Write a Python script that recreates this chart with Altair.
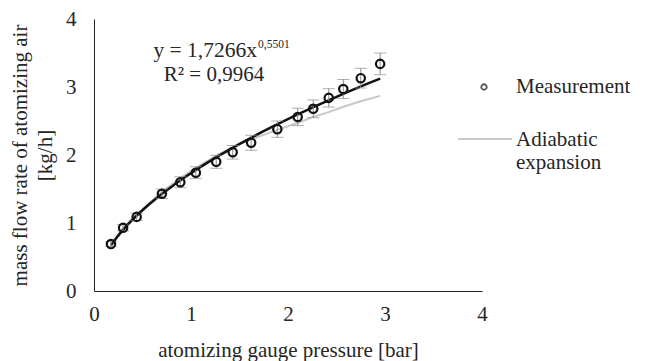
import altair as alt
import pandas as pd

# ---- data ----
pressure = [0.175, 0.30, 0.44, 0.70, 0.89, 1.05, 1.26, 1.43, 1.62, 1.89, 2.10, 2.26, 2.42, 2.57, 2.75, 2.95]
flow = [0.69, 0.93, 1.09, 1.43, 1.60, 1.74, 1.90, 2.04, 2.18, 2.38, 2.56, 2.68, 2.84, 2.97, 3.13, 3.34]
flow_err = [0.035, 0.045, 0.055, 0.07, 0.08, 0.087, 0.095, 0.10, 0.11, 0.12, 0.128, 0.13, 0.135, 0.14, 0.145, 0.16]
adiabatic = [0.68, 0.93, 1.13, 1.46, 1.66, 1.81, 1.99, 2.12, 2.23, 2.37, 2.47, 2.56, 2.63, 2.71, 2.79, 2.87]

x_ticks = [0, 1, 2, 3, 4]
y_ticks = [0, 1, 2, 3, 4]
eq_main = ["y = 1,7266x"]
eq_sup = ["0,5501"]
eq_r2 = ["R² = 0,9964"]
legend_labels = ["Measurement", "Adiabatic", "expansion"]

FONT = "Liberation Serif"
TXT = "#262626"
FS = 21

df = pd.DataFrame({
    "p": pressure,
    "m": flow,
    "lo": [v - e for v, e in zip(flow, flow_err)],
    "hi": [v + e for v, e in zip(flow, flow_err)],
    "ad": adiabatic,
})

xs = alt.Scale(domain=[0, 4], nice=False)
ys = alt.Scale(domain=[0, 4], nice=False)

xax = alt.Axis(values=x_ticks, format="d", ticks=False, grid=False, labelPadding=12, labelFlush=False,
               title="atomizing gauge pressure [bar]", titlePadding=15)
yax = alt.Axis(values=y_ticks, format="d", ticks=False, grid=False, labelPadding=18, labelFlush=False,
               title=["mass flow rate of atomizing air", "[kg/h]"], titlePadding=10, titleLineHeight=25)

base = alt.Chart(df)

adiab = base.mark_line(color="#c8c8c8", strokeWidth=2).encode(
    x=alt.X("p:Q", scale=xs, axis=xax),
    y=alt.Y("ad:Q", scale=ys, axis=yax),
)

fit = base.transform_regression("p", "m", method="pow").mark_line(
    color="#111111", strokeWidth=2.5
).encode(x=alt.X("p:Q", scale=xs), y=alt.Y("m:Q", scale=ys))

err = base.mark_rule(color="#8c8c8c", strokeWidth=1).encode(
    x=alt.X("p:Q", scale=xs), y=alt.Y("lo:Q", scale=ys), y2="hi:Q"
)
cap_lo = base.mark_tick(color="#8c8c8c", orient="horizontal", size=12, thickness=1).encode(
    x=alt.X("p:Q", scale=xs), y=alt.Y("lo:Q", scale=ys)
)
cap_hi = base.mark_tick(color="#8c8c8c", orient="horizontal", size=12, thickness=1).encode(
    x=alt.X("p:Q", scale=xs), y=alt.Y("hi:Q", scale=ys)
)

pts = base.mark_point(shape="circle", filled=False, color="#111111", size=70, strokeWidth=2.2, opacity=1).encode(
    x=alt.X("p:Q", scale=xs), y=alt.Y("m:Q", scale=ys)
)

# equation annotation
t1 = alt.Chart(pd.DataFrame({"t": eq_main})).mark_text(
    font=FONT, fontSize=21.5, color=TXT, align="right", baseline="middle"
).encode(text="t:N", x=alt.value(163), y=alt.value(32))
t2 = alt.Chart(pd.DataFrame({"t": eq_sup})).mark_text(
    font=FONT, fontSize=11.5, color=TXT, align="left", baseline="middle"
).encode(text="t:N", x=alt.value(164), y=alt.value(26))
t3 = alt.Chart(pd.DataFrame({"t": eq_r2})).mark_text(
    font=FONT, fontSize=FS, color=TXT, align="center", baseline="middle"
).encode(text="t:N", x=alt.value(120), y=alt.value(56))

# manual legend
leg_pt = alt.Chart(pd.DataFrame({"k": [0]})).mark_point(
    shape="circle", filled=False, color="#111111", size=30, strokeWidth=1.8
).encode(x=alt.value(390), y=alt.value(68))
leg_line = alt.Chart(pd.DataFrame({"k": [0]})).mark_rule(color="#c8c8c8", strokeWidth=2).encode(
    x=alt.value(364), x2=alt.value(418), y=alt.value(120)
)
leg_txt = alt.Chart(pd.DataFrame({"t": legend_labels, "yy": [68, 121, 144]})).mark_text(
    font=FONT, fontSize=FS, color=TXT, align="left", baseline="middle"
).encode(text="t:N", x=alt.value(422), y=alt.Y("yy:Q", scale=None))

chart = alt.layer(adiab, fit, err, cap_lo, cap_hi, pts, t1, t2, t3, leg_pt, leg_line, leg_txt).properties(
    width=388, height=272,
    autosize=alt.AutoSizeParams(type="none"),
    padding={"left": 86, "top": 11, "right": 154, "bottom": 70},
).configure_view(stroke=None).configure_axis(
    labelFont=FONT, titleFont=FONT, labelFontSize=FS, titleFontSize=FS,
    labelColor=TXT, titleColor=TXT, titleFontWeight="normal",
    domainColor="#222222", domainWidth=1,
)

chart.save("out.html", embed_options={"renderer": "svg", "actions": False})
